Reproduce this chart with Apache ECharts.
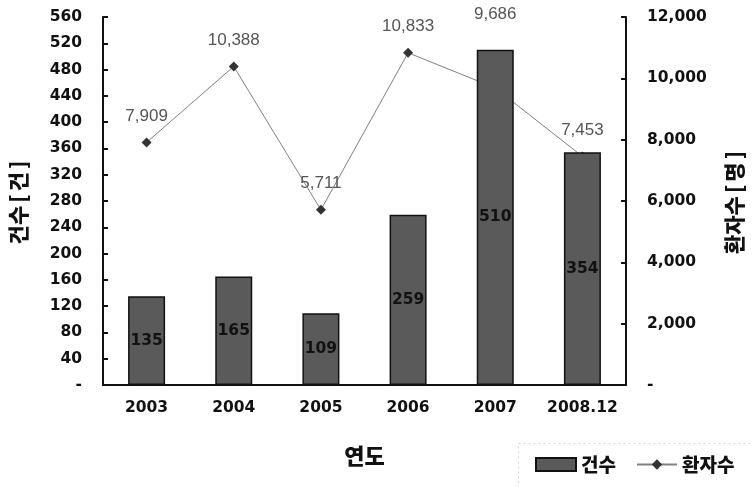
<!DOCTYPE html>
<html>
<head>
<meta charset="utf-8">
<script src="https://cdn.jsdelivr.net/npm/echarts@6/dist/echarts.min.js"></script>
<style>
  html, body { margin: 0; padding: 0; background: #fff; }
  #chart { width: 753px; height: 487px; }
</style>
</head>
<body>
<div id="chart"></div>
<script>
// Yearly case counts (bars, left axis) and patient counts (line, right axis)
const years = ['2003', '2004', '2005', '2006', '2007', '2008.12'];
const cases = [135, 165, 109, 259, 510, 354];
const patients = [7909, 10388, 5711, 10833, 9686, 7453];

const numFont = '"DejaVu Sans", sans-serif';
const lblFont = '"Liberation Sans", Arial, sans-serif';
const krFont = '"Noto Sans CJK KR", sans-serif';

const chart = echarts.init(document.getElementById('chart'));

const patientData = patients.map((v, i) => {
  // the 2007 value sits behind the tall bar, so its label is lifted above it
  if (i === 4) return { value: v, label: { offset: [0, -47] } };
  return v;
});

const boldNum = { fontFamily: numFont, fontWeight: 'bold', fontSize: 15.5, color: '#111' };
const axisTitle = { fontFamily: krFont, fontWeight: 900, fontSize: 21, color: '#111' };
// axis titles with a little air around the square brackets
const titleRich = {
  t: { fontFamily: krFont, fontWeight: 900, fontSize: 21, color: '#111' },
  b: { fontFamily: krFont, fontWeight: 900, fontSize: 21, color: '#111', padding: [0, 3, 0, 3] }
};

chart.setOption({
  animation: false,
  backgroundColor: '#fff',
  grid: { left: 101, right: 122, top: 17, bottom: 102, containLabel: false },
  graphic: [
    {
      type: 'rect',
      silent: true,
      shape: { x: 518.5, y: 443.5, width: 260, height: 80 },
      style: { fill: 'none', stroke: '#d4d4d4', lineWidth: 1, lineDash: [2, 3] }
    }
  ],
  legend: {
    left: 535,
    top: 455,
    padding: 0,
    itemGap: 20,
    itemWidth: 40,
    itemHeight: 13,
    textStyle: { fontFamily: krFont, fontWeight: 900, fontSize: 19, color: '#111' },
    data: [
      { name: '건수', icon: 'rect' },
      { name: '환자수' }
    ]
  },
  xAxis: {
    type: 'category',
    data: years,
    name: '연도',
    nameLocation: 'middle',
    nameGap: 60,
    nameTextStyle: Object.assign({}, axisTitle, { fontSize: 22 }),
    axisLine: { lineStyle: { color: '#111', width: 2 } },
    axisTick: { inside: true, length: 5, lineStyle: { color: '#111', width: 2 } },
    axisLabel: Object.assign({ margin: 15, interval: 0 }, boldNum)
  },
  yAxis: [
    {
      type: 'value',
      min: 0, max: 560, interval: 40,
      name: '{t|건수}{b|[}{t|건}{b|]}',
      nameLocation: 'middle',
      nameRotate: 90,
      nameGap: 74,
      nameTextStyle: Object.assign({ rich: titleRich }, axisTitle),
      axisLine: { show: true, lineStyle: { color: '#111', width: 2 } },
      axisTick: { show: true, inside: true, length: 5, lineStyle: { color: '#111', width: 2 } },
      splitLine: { show: false },
      axisLabel: Object.assign({
        margin: 21,
        formatter: v => (v === 0 ? '-' : String(v))
      }, boldNum)
    },
    {
      type: 'value',
      min: 0, max: 12000, interval: 2000,
      name: '{t|환자수}{b|[}{t|명}{b|]}',
      nameLocation: 'middle',
      nameRotate: 90,
      nameGap: 98,
      nameTextStyle: Object.assign({ rich: titleRich }, axisTitle),
      axisLine: { show: true, lineStyle: { color: '#111', width: 2 } },
      axisTick: { show: true, inside: true, length: 5, lineStyle: { color: '#111', width: 2 } },
      splitLine: { show: false },
      axisLabel: Object.assign({
        margin: 21,
        formatter: v => (v === 0 ? '-' : v.toLocaleString('en-US'))
      }, boldNum)
    }
  ],
  series: [
    {
      name: '환자수',
      type: 'line',
      yAxisIndex: 1,
      z: 1,
      data: patientData,
      symbol: 'diamond',
      symbolSize: 10,
      itemStyle: { color: '#333' },
      lineStyle: { color: '#808080', width: 1 },
      label: {
        show: true,
        position: 'top',
        distance: 13,
        fontFamily: lblFont,
        fontSize: 17,
        color: '#555',
        formatter: p => p.value.toLocaleString('en-US')
      }
    },
    {
      name: '건수',
      type: 'bar',
      yAxisIndex: 0,
      z: 3,
      barWidth: 37,
      data: cases,
      itemStyle: { color: '#5a5a5a', borderColor: '#111', borderWidth: 1.5 },
      label: Object.assign({ show: true, position: 'inside' }, boldNum)
    }
  ]
});
</script>
</body>
</html>
